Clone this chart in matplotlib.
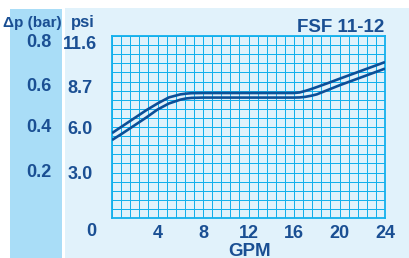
import numpy as np
import matplotlib
matplotlib.use("Agg")
import matplotlib.pyplot as plt
from matplotlib.patches import Rectangle
from matplotlib.transforms import blended_transform_factory

# ---- data ----
gpm = [0, 1, 2, 3, 4, 5, 6, 6.5, 7, 8, 10, 12, 14, 16, 16.5, 17, 17.5, 18, 19, 20, 22, 24]
upper_psi = [5.6, 6.1, 6.6, 7.1, 7.55, 7.95, 8.15, 8.2, 8.23, 8.24, 8.24, 8.24, 8.24, 8.24, 8.28, 8.38, 8.5, 8.63, 8.9, 9.18, 9.73, 10.28]
lower_psi = [5.14, 5.62, 6.12, 6.62, 7.15, 7.55, 7.8, 7.88, 7.92, 7.94, 7.94, 7.94, 7.94, 7.94, 7.95, 7.99, 8.06, 8.15, 8.45, 8.75, 9.3, 9.85]

x_ticks = [4, 8, 12, 16, 20, 24]
psi_ticks = [11.6, 8.7, 6.0, 3.0]
psi_labels = ["11.6", "8.7", "6.0", "3.0"]
bar_labels = ["0.8", "0.6", "0.4", "0.2"]
title = "FSF 11-12"

# ---- style ----
TXT = "#1a4f93"
CURVE = "#0c4f98"
GRID = "#14b0ec"
PANEL_L = "#a9ddf7"
PANEL_R = "#e1f2fb"
FONT = "Liberation Sans"

W, H = 409, 258
fig = plt.figure(figsize=(W / 100, H / 100), dpi=100)
fig.patch.set_facecolor("white")

fig.add_artist(Rectangle((10 / W, 0), 52 / W, 249 / H, transform=fig.transFigure,
                         facecolor=PANEL_L, edgecolor="none", zorder=0))
fig.add_artist(Rectangle((65 / W, 0), (W - 65) / W, 250 / H, transform=fig.transFigure,
                         facecolor=PANEL_R, edgecolor="none", zorder=0))

ax = fig.add_axes([112 / W, 40 / H, 273 / W, 182 / H])
ax.set_facecolor("none")
ax.set_xlim(0, 24)
ax.set_ylim(0, 12)

for xv in np.arange(0, 24.01, 0.8):
    ax.axvline(xv, color=GRID, lw=0.7, antialiased=False, zorder=1)
for yv in np.arange(0, 12.01, 0.6):
    ax.axhline(yv, color=GRID, lw=0.7, antialiased=False, zorder=1)
for s in ax.spines.values():
    s.set_color(GRID)
    s.set_linewidth(1.3)

ax.set_xticks(x_ticks)
ax.set_xticklabels([str(t) for t in x_ticks], fontsize=13, fontweight="bold",
                   color=TXT, family=FONT)
ax.set_yticks(psi_ticks)
ax.set_yticklabels(psi_labels, fontsize=13, fontweight="bold", color=TXT,
                   family=FONT, ha="center")
ax.tick_params(axis="both", which="both", length=0)
ax.tick_params(axis="x", pad=5)
ax.tick_params(axis="y", pad=23)

ax.plot(gpm, upper_psi, color=CURVE, lw=1.9, solid_capstyle="butt", zorder=5)
ax.plot(gpm, lower_psi, color=CURVE, lw=1.9, solid_capstyle="butt", zorder=5)

# bar labels in left panel
tr = blended_transform_factory(fig.transFigure, ax.transData)
for v, lab in zip(psi_ticks, bar_labels):
    ax.text(39 / W, v, lab, transform=tr, ha="center", va="center",
            fontsize=13, fontweight="bold", color=TXT, family=FONT)

fig.text(91 / W, 1 - 231 / H, "0", ha="center", va="center", fontsize=13,
         fontweight="bold", color=TXT, family=FONT)
fig.text(32 / W, 1 - 23 / H, "Δp (bar)", ha="center", va="center", fontsize=11,
         fontweight="bold", color=TXT, family=FONT)
fig.text(83 / W, 1 - 23 / H, "psi", ha="center", va="center", fontsize=12,
         fontweight="bold", color=TXT, family=FONT)
fig.text(250 / W, 1 - 251 / H, "GPM", ha="center", va="center", fontsize=13.5,
         fontweight="bold", color=TXT, family=FONT)
fig.text(384 / W, 1 - 27 / H, title, ha="right", va="center", fontsize=13.5,
         fontweight="bold", color=TXT, family=FONT)

fig.savefig("out.png", dpi=100)
